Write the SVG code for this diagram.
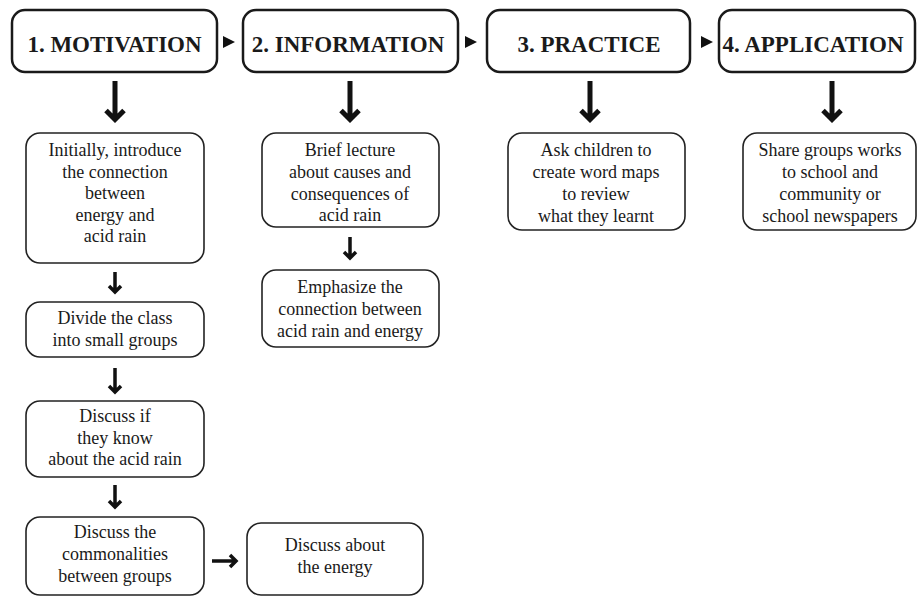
<svg xmlns="http://www.w3.org/2000/svg" width="917" height="596" viewBox="0 0 917 596">
<style>
.hbox{fill:#fff;stroke:#1a1a1a;stroke-width:2.5}
.box{fill:#fff;stroke:#222;stroke-width:1.6}
.ht{font-family:"Liberation Serif",serif;font-weight:bold;font-size:23px;fill:#1a1a1a;text-anchor:middle}
.t{font-family:"Liberation Serif",serif;font-size:18px;fill:#1a1a1a;text-anchor:middle}
.big{fill:none;stroke:#111;stroke-width:5}
.sm{fill:none;stroke:#111;stroke-width:3.5}
.tri{fill:#111}
</style>
<rect width="917" height="596" fill="#fff"/>
<g id="h1"><rect class="hbox" x="12" y="10" width="205" height="62" rx="13"/><text class="ht" x="114.5" y="52">1. MOTIVATION</text></g>
<g id="h2"><rect class="hbox" x="243" y="10" width="215" height="62" rx="13"/><text class="ht" x="348" y="52">2. INFORMATION</text></g>
<g id="h3"><rect class="hbox" x="487" y="10" width="203" height="62" rx="13"/><text class="ht" x="589" y="52">3. PRACTICE</text></g>
<g id="h4"><rect class="hbox" x="719" y="10" width="196" height="62" rx="13"/><text class="ht" x="813" y="52">4. APPLICATION</text></g>
<g id="m1"><rect class="box" x="26" y="133" width="178" height="130" rx="14"/>
<text class="t" x="115" y="156">Initially, introduce</text><text class="t" x="115" y="177.5">the connection</text><text class="t" x="115" y="199">between</text><text class="t" x="115" y="220.5">energy and</text><text class="t" x="115" y="242">acid rain</text></g>
<g id="m2"><rect class="box" x="26" y="302" width="178" height="55" rx="14"/>
<text class="t" x="115" y="324">Divide the class</text><text class="t" x="115" y="345.5">into small groups</text></g>
<g id="m3"><rect class="box" x="26" y="401" width="178" height="76" rx="14"/>
<text class="t" x="115" y="422">Discuss if</text><text class="t" x="115" y="443.5">they know</text><text class="t" x="115" y="465">about the acid rain</text></g>
<g id="m4"><rect class="box" x="26" y="517" width="178" height="78" rx="14"/>
<text class="t" x="115" y="538">Discuss the</text><text class="t" x="115" y="560">commonalities</text><text class="t" x="115" y="582">between groups</text></g>
<g id="m5"><rect class="box" x="247" y="523" width="176" height="72" rx="14"/>
<text class="t" x="335" y="551">Discuss about</text><text class="t" x="335" y="572.5">the energy</text></g>
<g id="i1"><rect class="box" x="262" y="133" width="177" height="94" rx="14"/>
<text class="t" x="350" y="156">Brief lecture</text><text class="t" x="350" y="178">about causes and</text><text class="t" x="350" y="199.5">consequences of</text><text class="t" x="350" y="221">acid rain</text></g>
<g id="i2"><rect class="box" x="262" y="270" width="177" height="77" rx="14"/>
<text class="t" x="350" y="293">Emphasize the</text><text class="t" x="350" y="315">connection between</text><text class="t" x="350" y="337">acid rain and energy</text></g>
<g id="p1"><rect class="box" x="508" y="133" width="177" height="97" rx="14"/>
<text class="t" x="596" y="156">Ask children to</text><text class="t" x="596" y="178">create word maps</text><text class="t" x="596" y="200">to review</text><text class="t" x="596" y="222">what they learnt</text></g>
<g id="a1"><rect class="box" x="743" y="133" width="173" height="97" rx="14"/>
<text class="t" x="830" y="156">Share groups works</text><text class="t" x="830" y="178">to school and</text><text class="t" x="830" y="200">community or</text><text class="t" x="830" y="222">school newspapers</text></g>
<g id="connectors">
<polygon class="tri" points="223,36 235,42 223,48"/>
<polygon class="tri" points="465,36 477,42 465,48"/>
<polygon class="tri" points="701,36 713,42 701,48"/>
<path class="big" d="M115,81V119M106,110.5L115,119.5L124,110.5"/>
<path class="big" d="M350,81V119M341,110.5L350,119.5L359,110.5"/>
<path class="big" d="M590,81V119M581,110.5L590,119.5L599,110.5"/>
<path class="big" d="M832,81V119M823,110.5L832,119.5L841,110.5"/>
<path class="sm" d="M115,272V292M109,286L115,292L121,286"/>
<path class="sm" d="M115,368V392M109,386L115,392L121,386"/>
<path class="sm" d="M115,485V507M109,501L115,507L121,501"/>
<path class="sm" d="M350,237V258M344,252L350,258L356,252"/>
<path class="sm" d="M212,561H236M230,555L236,561L230,567"/>
</g>
</svg>
